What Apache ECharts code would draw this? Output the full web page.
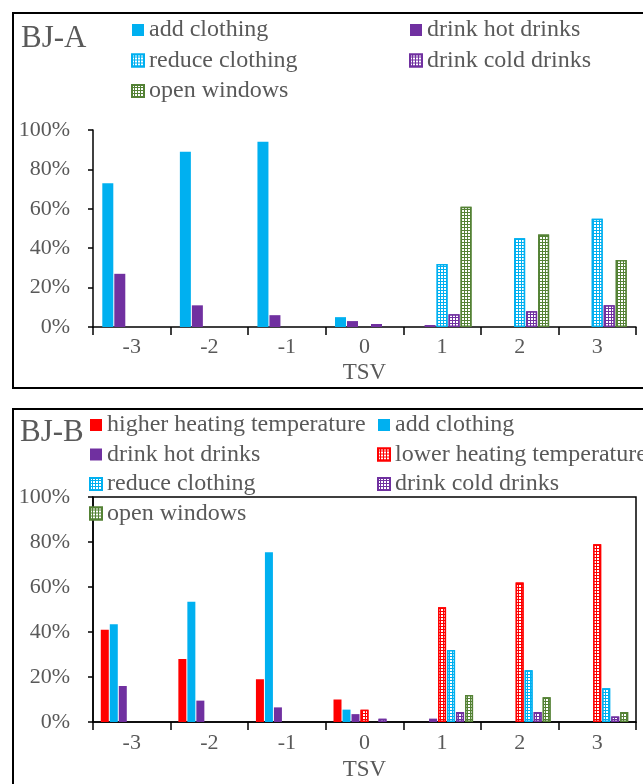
<!DOCTYPE html>
<html>
<head>
<meta charset="utf-8">
<script src="https://cdn.jsdelivr.net/npm/echarts@6/dist/echarts.min.js"></script>
<style>
html,body{margin:0;padding:0;background:#fff;overflow:hidden;}
#chart{width:643px;height:784px;}
</style>
</head>
<body>
<div id="chart"></div>
<script>
// ---- data ----
const categories = ['-3', '-2', '-1', '0', '1', '2', '3'];
const yTickValues = [0, 20, 40, 60, 80, 100];

// BJ-A (percent)
const aAddClothing    = [73, 89, 94, 5, 0, 0, 0];
const aHotDrinks      = [27, 11, 6, 3, 1, 0, 0];
const aReduceClothing = [0, 0, 0, 0, 32, 45, 55];
const aColdDrinks     = [0, 0, 0, 1.5, 6.5, 8, 11];
const aOpenWindows    = [0, 0, 0, 0, 61, 47, 34];

// BJ-B (percent)
const bHigherHeating  = [41, 28, 19, 10, 0, 0, 0];
const bAddClothing    = [43.5, 53.5, 75.5, 5.5, 0, 0, 0];
const bHotDrinks      = [16, 9.5, 6.5, 3.5, 1.5, 0, 0];
const bLowerHeating   = [0, 0, 0, 5.5, 51, 62, 79];
const bReduceClothing = [0, 0, 0, 0, 32, 23, 15];
const bColdDrinks     = [0, 0, 0, 1.5, 4.5, 4.5, 2.5];
const bOpenWindows    = [0, 0, 0, 0, 12, 11, 4.5];

// ---- styles ----
const FONT = 'Liberation Serif';
const TXT = '#595959';
const BLUE = '#00B0F0', PURPLE = '#7030A0', RED = '#FF0000', GREEN = '#548235';

function solid(c) { return { color: c }; }
function patterned(c) {
  return {
    color: c, borderColor: c, borderWidth: 1.5,
    decal: { symbol: 'rect', symbolSize: 1, color: '#ffffff', dashArrayX: [2, 1], dashArrayY: [2, 1], rotation: 0 }
  };
}
function clean(arr) { return arr.map(v => (v === 0 ? '-' : v)); }

function bar(name, data, style, gi, bw, gap) {
  return {
    type: 'bar', name: name, data: clean(data), xAxisIndex: gi, yAxisIndex: gi,
    barWidth: bw, barGap: gap, itemStyle: style
  };
}

function xAx(gi, margin, nameGap) {
  return {
    gridIndex: gi, type: 'category', data: categories,
    axisLine: { lineStyle: { color: '#000', width: 1.5 } },
    axisTick: { show: true, length: 8, lineStyle: { color: '#000', width: 1.5 } },
    axisLabel: { fontFamily: FONT, fontSize: 22, color: TXT, margin: margin },
    name: 'TSV', nameLocation: 'middle', nameGap: nameGap,
    nameTextStyle: { fontFamily: FONT, fontSize: 23, color: TXT }
  };
}
function yAx(gi) {
  return {
    gridIndex: gi, type: 'value', min: yTickValues[0], max: yTickValues[yTickValues.length - 1],
    interval: yTickValues[1] - yTickValues[0],
    axisLine: { show: true, lineStyle: { color: '#000', width: 1.5 } },
    axisTick: { show: true, length: 5, lineStyle: { color: '#000', width: 1.5 } },
    splitLine: { show: false },
    axisLabel: { fontFamily: FONT, fontSize: 22, color: TXT, margin: 23, formatter: '{value}%' }
  };
}
function leg(left, top, gap, names) {
  return {
    orient: 'vertical', left: left, top: top, padding: 0, itemGap: gap,
    icon: 'rect', itemWidth: 12, itemHeight: 12, selectedMode: false,
    textStyle: { fontFamily: FONT, fontSize: 24, color: TXT, lineHeight: 24 },
    data: names
  };
}

const option = {
  animation: false,
  textStyle: { fontFamily: FONT },
  graphic: [
    { type: 'rect', shape: { x: 13, y: 13, width: 700, height: 375 }, style: { fill: 'none', stroke: '#000', lineWidth: 2 } },
    { type: 'rect', shape: { x: 13, y: 409, width: 700, height: 420 }, style: { fill: 'none', stroke: '#000', lineWidth: 2 } },
    { type: 'text', x: 21, y: 39, style: { text: 'BJ-A', font: '31px "Liberation Serif"', fill: TXT, verticalAlign: 'middle' } },
    { type: 'text', x: 20, y: 433, style: { text: 'BJ-B', font: '31px "Liberation Serif"', fill: TXT, verticalAlign: 'middle' } }
  ],
  legend: [
    leg(131, 18, 6.5, ['add clothing', 'reduce clothing', 'open windows']),
    leg(409, 18, 6.5, ['drink hot drinks', 'drink cold drinks']),
    leg(89, 413, 5.5, ['higher heating temperature', 'drink hot drinks', 'reduce clothing', 'open windows']),
    leg(377, 413, 5.5, ['add clothing', 'lower heating temperature', 'drink cold drinks'])
  ],
  grid: [
    { left: 93, top: 130, width: 543, height: 197 },
    { left: 93, top: 497, width: 543, height: 225, show: true, borderColor: '#000', borderWidth: 1.5, backgroundColor: 'transparent' }
  ],
  xAxis: [xAx(0, 9, 34), xAx(1, 10, 36)],
  yAxis: [yAx(0), yAx(1)],
  series: [
    bar('add clothing', aAddClothing, solid(BLUE), 0, 11, '9%'),
    bar('drink hot drinks', aHotDrinks, solid(PURPLE), 0, 11, '9%'),
    bar('reduce clothing', aReduceClothing, patterned(BLUE), 0, 11, '9%'),
    bar('drink cold drinks', aColdDrinks, patterned(PURPLE), 0, 11, '9%'),
    bar('open windows', aOpenWindows, patterned(GREEN), 0, 11, '9%'),

    bar('higher heating temperature', bHigherHeating, solid(RED), 1, 8, '12.5%'),
    bar('add clothing', bAddClothing, solid(BLUE), 1, 8, '12.5%'),
    bar('drink hot drinks', bHotDrinks, solid(PURPLE), 1, 8, '12.5%'),
    bar('lower heating temperature', bLowerHeating, patterned(RED), 1, 8, '12.5%'),
    bar('reduce clothing', bReduceClothing, patterned(BLUE), 1, 8, '12.5%'),
    bar('drink cold drinks', bColdDrinks, patterned(PURPLE), 1, 8, '12.5%'),
    bar('open windows', bOpenWindows, patterned(GREEN), 1, 8, '12.5%')
  ]
};

const chart = echarts.init(document.getElementById('chart'), null, { renderer: 'canvas' });
chart.setOption(option);
</script>
</body>
</html>
